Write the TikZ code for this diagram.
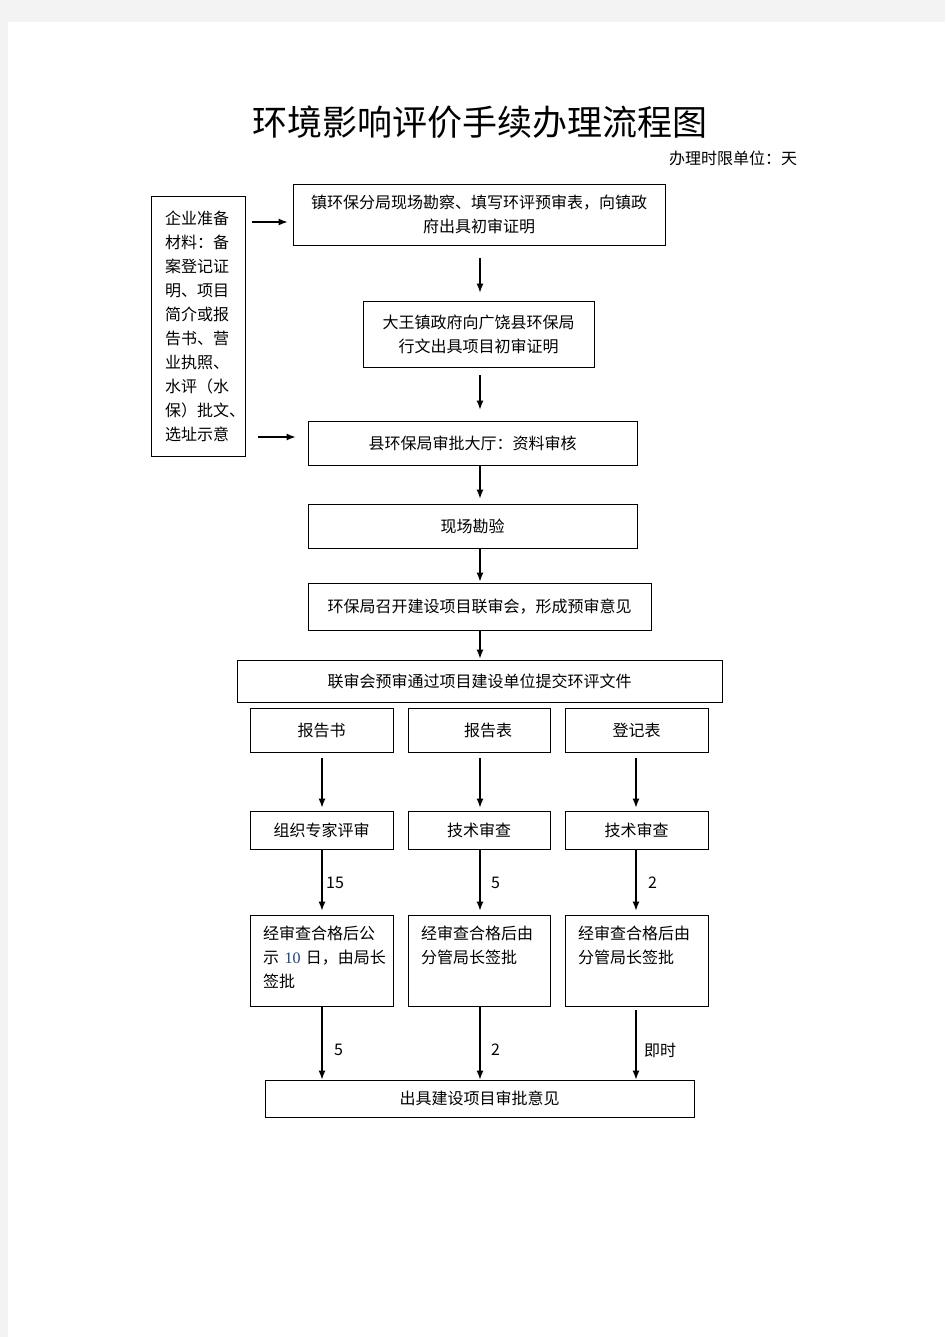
\documentclass[tikz,border=0pt]{standalone}
\usepackage{fontspec}
\setmainfont{Noto Sans CJK SC}
\newfontfamily\numserif{Liberation Serif}
\usetikzlibrary{arrows.meta}
\definecolor{pagegray}{HTML}{F3F3F3}
\definecolor{numblue}{HTML}{1F3F7F}
\begin{document}
\begin{tikzpicture}[x=1pt,y=-1pt,
  box/.style={draw=black,line width=0.9pt,inner sep=0pt,font=\fontsize{16}{24}\selectfont,align=center},
  txt/.style={inner sep=0pt,font=\fontsize{16}{24}\selectfont},
  arr/.style={-{Latex[length=9pt,width=7pt]},line width=1.2pt}]
\fill[pagegray] (0,0) rectangle (945,1337);
\fill[white] (8,22) rectangle (945,1337);
\useasboundingbox (0,0) rectangle (945,1337);

\node[inner sep=0pt,font=\fontsize{35}{36}\selectfont] (title) at (480,122) {环境影响评价手续办理流程图};
\node[txt,anchor=west] (unit) at (669,158) {办理时限单位：天};

\coordinate (ax) at (480,0);
\coordinate (ax1) at (322,0);
\coordinate (ax3) at (636,0);
\coordinate (ya) at (0,222);
\coordinate (yb) at (0,437);

\node[box,minimum width=94pt,minimum height=260pt,text width=66pt,align=left] (lb) at (198,326)
  {企业准备\\材料：备\\案登记证\\明、项目\\简介或报\\告书、营\\业执照、\\水评（水\\保）批文、\\选址示意};
\node[box,minimum width=372pt,minimum height=61pt] (b1) at (479,214.5)
  {镇环保分局现场勘察、填写环评预审表，向镇政\\府出具初审证明};
\node[box,minimum width=231pt,minimum height=66pt] (b2) at (478.5,334)
  {大王镇政府向广饶县环保局\\行文出具项目初审证明};
\node[box,minimum width=329pt,minimum height=44pt] (b3) at (472.5,443)
  {县环保局审批大厅：资料审核};
\node[box,minimum width=329pt,minimum height=44pt] (b4) at (472.5,526)
  {现场勘验};
\node[box,minimum width=343pt,minimum height=47pt] (b5) at (479.5,606.5)
  {环保局召开建设项目联审会，形成预审意见};
\node[box,minimum width=485pt,minimum height=42pt] (b6) at (479.5,681)
  {联审会预审通过项目建设单位提交环评文件};

\node[box,minimum width=143pt,minimum height=44pt] (r1) at (321.5,730) {报告书};
\node[box,minimum width=142pt,minimum height=44pt] (r2) at (479,730) {\hspace*{18pt}报告表};
\node[box,minimum width=143pt,minimum height=44pt] (r3) at (636.5,730) {登记表};

\node[box,minimum width=143pt,minimum height=38pt] (s1) at (321.5,830) {组织专家评审};
\node[box,minimum width=142pt,minimum height=38pt] (s2) at (479,830) {技术审查};
\node[box,minimum width=143pt,minimum height=38pt] (s3) at (636.5,830) {技术审查};

\node[box,minimum width=143pt,minimum height=91pt] (u1) at (321.5,960.5) {};
\node[box,minimum width=142pt,minimum height=91pt] (u2) at (479,960.5) {};
\node[box,minimum width=143pt,minimum height=91pt] (u3) at (636.5,960.5) {};
\node[txt,anchor=base west,text width=125pt,align=left] (ut1) at (263,939)
  {经审查合格后公\\示 {\numserif\color{numblue}10} 日，由局长\\签批};
\node[txt,anchor=base west,text width=125pt,align=left] (ut2) at (421,939)
  {经审查合格后由\\分管局长签批};
\node[txt,anchor=base west,text width=125pt,align=left] (ut3) at (578,939)
  {经审查合格后由\\分管局长签批};

\node[box,minimum width=429pt,minimum height=37pt] (f) at (479.5,1098.5) {出具建设项目审批意见};

% arrows
\draw[arr,shorten <=7pt,shorten >=5pt] (lb.east |- ya) -- (b1.west |- ya);
\draw[arr,shorten <=13pt,shorten >=12pt] (lb.east |- yb) -- (b3.west |- yb);
\draw[arr,shorten <=13pt,shorten >=8pt] (b1.south -| ax) -- (b2.north -| ax);
\draw[arr,shorten <=8pt,shorten >=11pt] (b2.south -| ax) -- (b3.north -| ax);
\draw[arr,shorten >=5pt] (b3.south -| ax) -- (b4.north -| ax);
\draw[arr,shorten >=1pt] (b4.south -| ax) -- (b5.north -| ax);
\draw[arr,shorten >=1pt] (b5.south -| ax) -- (b6.north -| ax);

\draw[arr,shorten <=6pt,shorten >=3pt] (r1.south -| ax1) -- (s1.north -| ax1);
\draw[arr,shorten <=6pt,shorten >=3pt] (r2.south -| ax) -- (s2.north -| ax);
\draw[arr,shorten <=6pt,shorten >=3pt] (r3.south -| ax3) -- (s3.north -| ax3);

\draw[arr,shorten >=4pt] (s1.south -| ax1) -- (u1.north -| ax1);
\draw[arr,shorten >=4pt] (s2.south -| ax) -- (u2.north -| ax);
\draw[arr,shorten >=4pt] (s3.south -| ax3) -- (u3.north -| ax3);

\draw[arr] (u1.south -| ax1) -- (f.north -| ax1);
\draw[arr] (u2.south -| ax) -- (f.north -| ax);
\draw[arr,shorten <=4pt] (u3.south -| ax3) -- (f.north -| ax3);

% labels
\node[txt,anchor=west] (l1) at (326,883) {15};
\node[txt,anchor=west] (l2) at (491,883) {5};
\node[txt,anchor=west] (l3) at (648,883) {2};
\node[txt,anchor=west] (l4) at (334,1050) {5};
\node[txt,anchor=west] (l5) at (491,1050) {2};
\node[txt,anchor=west] (l6) at (644,1050) {即时};
\end{tikzpicture}
\end{document}
